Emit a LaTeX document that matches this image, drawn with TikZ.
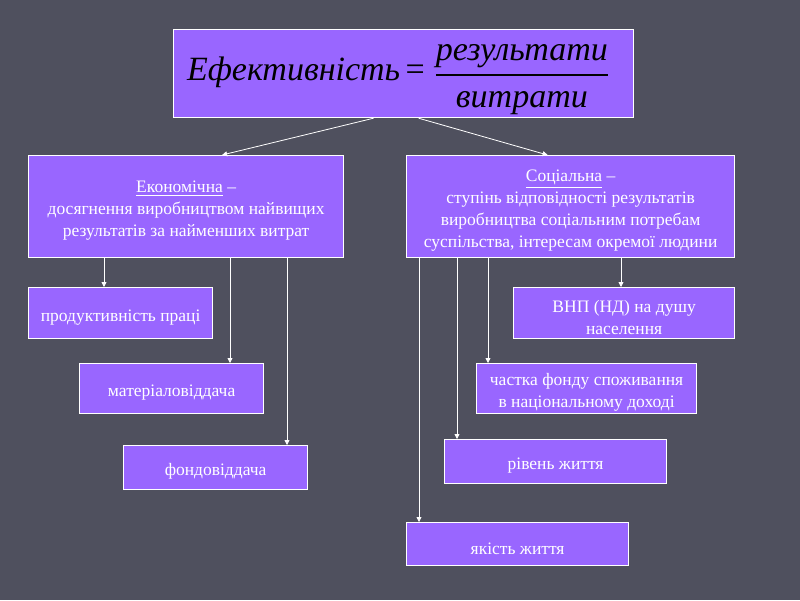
\documentclass[tikz,border=0pt]{standalone}
\usepackage{amsmath}
\usepackage{fontspec}
\setmainfont{Liberation Serif}
\usetikzlibrary{arrows.meta}
\definecolor{bg}{HTML}{4F505E}
\definecolor{vio}{HTML}{9966FF}
\newcommand{\topstrut}{\rule{0pt}{20pt}}
\begin{document}
\begin{tikzpicture}[x=1pt,y=-1pt,
  box/.style={draw=white, line width=1.2pt, fill=vio, text=white, align=center,
    inner sep=0pt, anchor=north west, font=\fontsize{17.5}{22}\selectfont},
  arr/.style={draw=white, line width=0.8pt, -{Triangle[width=5pt,length=5pt]}}]
\fill[bg] (0,0) rectangle (800,600);
\useasboundingbox (0,0) rectangle (800,600);

\node[box, text=black, minimum width=460pt, minimum height=88pt] (top) at (173,29)
  {\fontsize{34}{40}\selectfont $\text{\itshape Ефективність}\mkern-1mu\mathrel{\text{=}}\mkern2mu\genfrac{}{}{2pt}{0}{\text{\itshape\rule{0pt}{28pt}результати}}{\text{\itshape\rule{0pt}{26pt}витрати}}$\rule{11pt}{0pt}};

\node[box, minimum width=315pt, minimum height=102pt] (eco) at (28,155)
  {\topstrut\underline{Економічна} –\\досягнення виробництвом найвищих\\результатів за найменших витрат};
\node[box, minimum width=328pt, minimum height=102pt] (soc) at (406,155)
  {\topstrut\underline{Соціальна} –\\ступінь відповідності результатів\\виробництва соціальним потребам\\суспільства, інтересам окремої людини};

\node[box, minimum width=184pt, minimum height=51pt] (prod) at (28,287) {\topstrut продуктивність праці};
\node[box, minimum width=184pt, minimum height=50pt] (mat) at (79,363) {\topstrut матеріаловіддача};
\node[box, minimum width=184pt, minimum height=44pt] (fond) at (123,445) {\topstrut фондовіддача};

\node[box, minimum width=221pt, minimum height=51pt] (vnp) at (513,287) {\topstrut ВНП (НД) на душу\\населення};
\node[box, minimum width=220pt, minimum height=50pt] (chast) at (476,363) {\topstrut частка фонду споживання\\в національному доході};
\node[box, minimum width=222pt, minimum height=44pt] (riv) at (444,439) {\topstrut рівень життя};
\node[box, minimum width=222pt, minimum height=43pt] (yak) at (406,522) {\topstrut якість життя};

\draw[arr] ([xshift=-30pt]top.south) -- ([xshift=36pt]eco.north);
\draw[arr] ([xshift=15pt]top.south) -- ([xshift=-23pt]soc.north);

\coordinate (c1) at (104,0);
\coordinate (c2) at (230,0);
\coordinate (c3) at (287,0);
\coordinate (c4) at (621,0);
\coordinate (c5) at (488,0);
\coordinate (c6) at (457,0);
\coordinate (c7) at (419,0);
\draw[arr] (eco.south -| c1) -- (prod.north -| c1);
\draw[arr] (eco.south -| c2) -- (mat.north -| c2);
\draw[arr] (eco.south -| c3) -- (fond.north -| c3);
\draw[arr] (soc.south -| c4) -- (vnp.north -| c4);
\draw[arr] (soc.south -| c5) -- (chast.north -| c5);
\draw[arr] (soc.south -| c6) -- (riv.north -| c6);
\draw[arr] (soc.south -| c7) -- (yak.north -| c7);
\end{tikzpicture}
\end{document}
